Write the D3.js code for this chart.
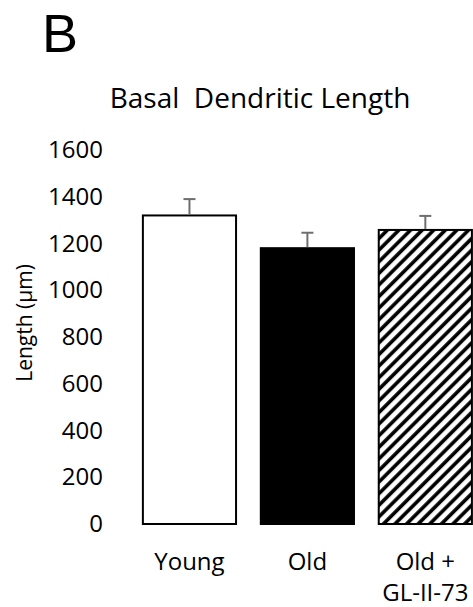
<!DOCTYPE html>
<html><head><meta charset="utf-8">
<script src="https://cdn.jsdelivr.net/npm/d3@7"></script>
<style>body{margin:0;background:#fff;} svg{display:block;}</style>
</head><body>
<svg id="c" width="473" height="607"></svg>
<script>
const categories = ["Young", "Old", "Old + GL-II-73"];
const categoryLines = [["Young"], ["Old"], ["Old +", "GL-II-73"]];
const values = [1320, 1180, 1258];
const errors = [70, 66, 60];
const fills = ["white", "black", "hatch"];
const yTicks = [0, 200, 400, 600, 800, 1000, 1200, 1400, 1600];
const title = "Basal  Dendritic Length";
const yLabel = "Length (µm)";
const panel = "B";

const svg = d3.select("#c");
const font = "'Open Sans', sans-serif";

const defs = svg.append("defs");
const P = 8.2;
const pat = defs.append("pattern").attr("id", "hatch")
  .attr("patternUnits", "userSpaceOnUse").attr("width", P).attr("height", P)
  .attr("patternTransform", "rotate(45)");
pat.append("rect").attr("width", P).attr("height", P).attr("fill", "white");
pat.append("line").attr("x1", 2).attr("x2", 2).attr("y1", 0).attr("y2", P)
  .attr("stroke", "black").attr("stroke-width", 3.6);

const x = d3.scaleBand().domain(categories).range([130.5, 484.3])
  .paddingInner(0.21).paddingOuter(0.105);
const y = d3.scaleLinear().domain([0, 1600]).range([524, 150]);

// y axis (labels only)
const yAxis = d3.axisLeft(y).tickValues(yTicks).tickFormat(d3.format("d"))
  .tickSize(0).tickPadding(0);
const gy = svg.append("g").attr("transform", "translate(103,0)").call(yAxis);
gy.select(".domain").remove();
gy.selectAll("text").attr("font-family", font).attr("font-size", 24).attr("fill", "#000");

// bars
svg.selectAll("rect.bar").data(categories).enter().append("rect")
  .attr("class", "bar")
  .attr("x", d => x(d)).attr("width", x.bandwidth())
  .attr("y", (d, i) => y(values[i])).attr("height", (d, i) => y(0) - y(values[i]))
  .attr("fill", (d, i) => fills[i] === "hatch" ? "url(#hatch)" : fills[i])
  .attr("stroke", "black").attr("stroke-width", 2);

// error bars (upper only)
const eb = svg.selectAll("g.err").data(categories).enter().append("g").attr("class", "err");
eb.append("line")
  .attr("x1", d => x(d) + x.bandwidth() / 2).attr("x2", d => x(d) + x.bandwidth() / 2)
  .attr("y1", (d, i) => y(values[i]) - 1).attr("y2", (d, i) => y(values[i] + errors[i]))
  .attr("stroke", "#6e6e6e").attr("stroke-width", 2);
eb.append("line")
  .attr("x1", d => x(d) + x.bandwidth() / 2 - 6).attr("x2", d => x(d) + x.bandwidth() / 2 + 6)
  .attr("y1", (d, i) => y(values[i] + errors[i])).attr("y2", (d, i) => y(values[i] + errors[i]))
  .attr("stroke", "#6e6e6e").attr("stroke-width", 2);

// x labels
const xl = svg.selectAll("text.xl").data(categories).enter().append("text")
  .attr("class", "xl")
  .attr("x", d => x(d) + x.bandwidth() / 2).attr("y", 570)
  .attr("text-anchor", "middle").attr("font-family", font).attr("font-size", 24);
xl.selectAll("tspan").data((d, i) => categoryLines[i]).enter().append("tspan")
  .attr("x", function () { return this.parentNode.getAttribute("x"); })
  .attr("dy", (d, j) => j === 0 ? 0 : 31).text(d => d);

// title
svg.append("text").attr("x", 260).attr("y", 108).attr("text-anchor", "middle")
  .attr("font-family", font).attr("font-size", 28).attr("xml:space", "preserve")
  .style("white-space", "pre").text(title);

// y label
svg.append("text").attr("transform", "translate(32,323) rotate(-90)")
  .attr("text-anchor", "middle").attr("font-family", font).attr("font-size", 21)
  .text(yLabel);

// panel letter
svg.append("text").attr("x", 42).attr("y", 52)
  .attr("font-family", "'Liberation Sans', Arial, sans-serif").attr("font-size", 54)
  .text(panel);
</script>
</body></html>
